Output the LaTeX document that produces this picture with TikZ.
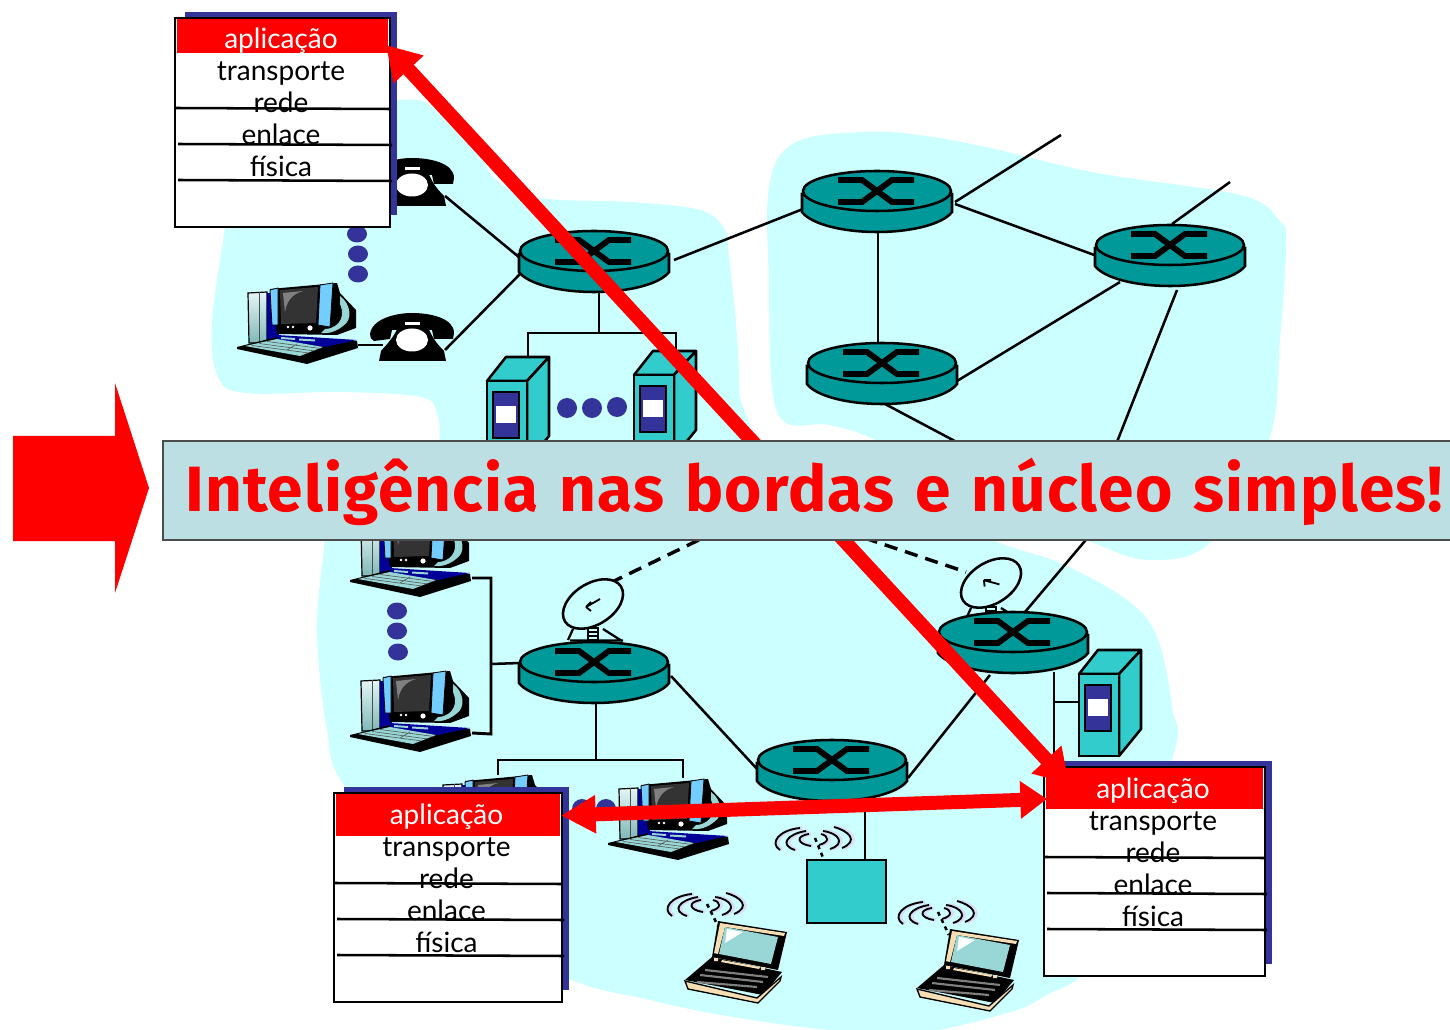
\documentclass[tikz,border=0pt]{standalone}
\usepackage{fontspec}
\setmainfont{Lato}
\newfontfamily\bannerfont[LetterSpace=1.7,WordSpace=1.3]{Fira Sans}
\usetikzlibrary{arrows.meta,calc}
\definecolor{cloudc}{HTML}{CCFFFF}
\definecolor{tealc}{HTML}{009999}
\definecolor{aquac}{HTML}{33CCCC}
\definecolor{navyc}{HTML}{333399}
\definecolor{bannerc}{HTML}{BBDFE2}
\definecolor{beigec}{HTML}{F5DEB3}
\definecolor{screenc}{HTML}{99D6D6}
\definecolor{lavc}{HTML}{D8DCF8}
\definecolor{towertop}{HTML}{E4F6F6}
\definecolor{towerbot}{HTML}{7FB8B8}
\tikzset{
 link/.style={line width=1.9pt,black},
 thicklink/.style={line width=2.2pt,black},
 satlink/.style={line width=2.6pt,black,dash pattern=on 10pt off 6pt},
 outl/.style={line width=1.9pt,black},
 dotc/.style={fill=navyc,draw=none},
 redarrow/.style={line width=10.5pt,red},
 stacktext/.style={font=\fontsize{21}{21}\selectfont,inner sep=0pt,anchor=base},
 pics/router/.style={code={
   \draw[outl,fill=tealc] (-75,3) -- (-75,21) .. controls (-66,33) and (-35,41) .. (0,41) .. controls (35,41) and (66,33) .. (75,21) -- (75,3) -- cycle;
   \draw[outl,fill=tealc] (0,0) ellipse [x radius=74,y radius=20];
   \draw[line width=4.4pt,black] (-39,-11) -- (-15,-11) -- (15,11) -- (37,11);
   \draw[line width=4.4pt,black] (-39,11) -- (-15,11) -- (15,-11) -- (37,-11);
 }},
 pics/server/.style={code={
   \draw[outl,fill=aquac,line join=round] (0,0) -- (19,-24) -- (62,-24) -- (40,0) -- cycle;
   \draw[outl,fill=aquac,line join=round] (40,0) -- (62,-24) -- (62,55) -- (40,82) -- cycle;
   \draw[outl,fill=aquac] (0,0) rectangle (40,82);
   \draw[outl,fill=navyc] (6,11) rectangle (32,57);
   \fill[white] (9,25) rectangle (29,42);
 }},
 pics/phone/.style={code={
   \fill[black] (0,21) .. controls (2,6) and (25,0) .. (42,0) .. controls (60,0) and (84,5) .. (84,20) -- (83,26) -- (64,26) -- (62,17) -- (22,17) -- (20,26) -- (4,28) .. controls (1,27) and (0,24) .. (0,21) -- cycle;
   \fill[black] (28,14) -- (58,14) .. controls (62,24) and (66,30) .. (74,38) -- (76,48) -- (9,48) -- (11,38) .. controls (18,30) and (24,24) .. (28,14) -- cycle;
   \fill[white] (35,9) rectangle (50,12);
   \fill[white] (42,27) ellipse [x radius=16,y radius=11.5];
 }},
 pics/pc/.style={code={
   \draw[line width=.9pt,black,top color=towertop,bottom color=towerbot] (11,11) -- (30,10) -- (30,61) -- (12,61) -- cycle;
   \draw[line width=.5pt,black!70] (22,10) -- (22,61);
   \fill[blue!60!black] (30,11) rectangle (42,58);
   \fill[black] (0,65) -- (40,55) -- (120,59) -- (121,66) -- (70,82) -- (0,67) -- cycle;
   \fill[blue!60!black] (40,53) -- (120,58) -- (88,65) -- (40,58) -- cycle;
   \fill[screenc] (8,64) -- (40,57) -- (86,65) -- (63,74) -- cycle;
   \draw[line width=.4pt,black!70] (15,63.5) -- (72,71) (22,61.5) -- (78,69) (30,59.5) -- (84,66.5) (50,68) -- (60,62);
   \fill[black] (33,7) -- (100,1) -- (103,11) -- (119,28) -- (119,46) -- (100,53) -- (40,52) -- cycle;
   \fill[screenc] (103,14) .. controls (114,22) and (116,38) .. (106,44) .. controls (100,49) and (92,52) .. (84,51) -- (88,47) .. controls (98,47) and (110,38) .. (103,22) -- cycle;
   \draw[line width=.6pt,black,fill=blue!35!cyan!55] (33,8) -- (41,6) -- (41,43) -- (35,43) -- cycle;
   \draw[line width=.6pt,black,fill=blue!35!cyan!55] (83,3) -- (96,1) -- (93,45) -- (81,43) -- cycle;
   \fill[black!80] (43,8) -- (81,5) -- (79,41) -- (44,42) -- cycle;
   \fill[black!50] (46,11) -- (66,9) .. controls (56,12) and (50,18) .. (48,30) -- cycle;
   \fill[white] (51,45) circle [radius=1.4] (56,45) circle [radius=1.4] (73,46) circle [radius=2.6];
   \fill[screenc] (44,55) -- (58,56) -- (58,58) -- (44,57) -- cycle (62,56.5) -- (78,57.5) -- (78,59.5) -- (62,58.5) -- cycle;
 }},
 pics/laptop/.style={code={
   \fill[black] (33,0) -- (102,11) -- (93,49) -- (27,36) -- cycle;
   \fill[beigec] (35,2) -- (100,12) -- (99,15) -- (40,6) -- (33,33) -- (29,32) -- cycle;
   \fill[screenc] (40,6) -- (93,16) -- (86,43) -- (34,33) -- cycle;
   \fill[white] (42,8) -- (58,11) -- (40,22) -- cycle;
   \fill[black] (27,36) -- (97,51) -- (78,74) -- (0,59) -- cycle;
   \draw[line width=1pt,black,fill=beigec] (0,60) -- (72,77) -- (96,56) -- (95,60) -- (73,82) -- (3,68) -- cycle;
   \draw[line width=1.6pt,gray] (20,49) -- (83,56) (15,54) -- (78,61) (12,61) -- (72,66);
   \fill[beigec] (37,39) -- (75,46) -- (74,48) -- (36,41) -- cycle;
   \fill[beigec] (29,37) rectangle (33,40) (76,46) rectangle (80,49);
 }},
 pics/waves/.style={code={
   \foreach \wc/\ww/\sx in {lavc/2.8pt/2, black/1.4pt/0}{
     \draw[color=\wc,line width=\ww,shift={(\sx,1)}]
       (-35,12) .. controls (-46,5) and (-36,-8) .. (-15,-10)
       (-20,12) .. controls (-36,7) and (-28,-4) .. (-9,-7)
       (-4,8) .. controls (-18,6) and (-20,-2) .. (-6,-4)
       (27,10) .. controls (44,3) and (34,-7) .. (19,-11)
       (15,11) .. controls (31,6) and (24,-5) .. (8,-7)
       (4,7) .. controls (15,4) and (14,-2) .. (6,-4);
   }
 }},
 pics/dish/.style={code={
   \draw[line width=1.7pt,black] (-23,36.5) -- (30,36.5) (-20,25) -- (-25,36) (10,25) -- (29,37);
   \draw[line width=1.1pt,black] (-5,24) rectangle (5,36) (-5,28) -- (5,28) (-5,32) -- (5,32);
   \draw[line width=1.9pt,black,fill=cloudc,rotate=32] (0,0) ellipse [x radius=33,y radius=20.6];
   \draw[line width=1.4pt,black,rotate=#1] (-7,3) -- (7,-5) (-7,3) -- (-2,-2) (-7,3) -- (-2,7);
 }},
}
\newcommand{\protostack}[5]{%
 \begin{scope}[shift={(#2,#3)}]
 \pgfmathsetmacro{\stw}{#4}
 \pgfmathsetmacro{\stc}{#4/2-1.5}
 \fill[navyc] (10,-6) rectangle (\stw+6.5,197);
 \draw[outl,fill=white] (0,0) rectangle (\stw,209);
 \fill[red] (1.5,1) rectangle (\stw-2,#5);
 \node[stacktext,text=white] (#1-app) at (\stc,31) {aplicação};
 \node[stacktext] (#1-tra) at (\stc,63) {transporte};
 \node[stacktext] (#1-red) at (\stc,95) {rede};
 \node[stacktext] (#1-enl) at (\stc,127) {enlace};
 \node[stacktext] (#1-fis) at (\stc,159) {física};
 \draw[outl] (1,90) -- (\stw,91) (3,126) -- (\stw+2,127) (3,162) -- (\stw+2,163);
 \end{scope}}
\begin{document}
\begin{tikzpicture}[x=.75pt,y=-.75pt,line join=miter]
\useasboundingbox (0,0) rectangle (1450,1030);
\clip (0,0) rectangle (1450,1030);
% clouds
\fill[cloudc] plot[smooth cycle,tension=.6] coordinates {(240,120)(396,100)(436,110)(475,147)(496,180)(539,198)(629,202)(700,210)(725,230)(729,257)(736,323)(739,390)(735,480)(440,480)(440,442)(437,413)(421,397)(343,392)(246,393)(218,377)(212,323)(225,227)};
\fill[cloudc] plot[smooth cycle,tension=.6] coordinates {(861,132)(919,135)(990,148)(1097,173)(1240,195)(1279,220)(1286,243)(1280,340)(1269,440)(1213,540)(1150,560)(1085,540)(950,490)(879,442)(829,425)(786,423)(772,387)(769,287)(769,187)(794,143)};
\fill[cloudc] plot[smooth cycle,tension=.6] coordinates {(330,490)(325,540)(317,630)(327,730)(345,787)(440,900)(560,975)(650,1000)(733,1017)(830,1030)(917,1033)(1000,1015)(1043,997)(1100,950)(1172,760)(1172,707)(1157,637)(1127,600)(1060,563)(993,540)(900,490)(600,480)};
% ports
\coordinate (r1e) at (674,260); \coordinate (r1phA) at (520,258); \coordinate (r1phB) at (520,274);
\coordinate (r1s) at (599,291); \coordinate (r1j) at (599,333);
\coordinate (s1up) at (528,360); \coordinate (s1j) at (528,333); \coordinate (s2up) at (676,352); \coordinate (s2j) at (676,333);
\coordinate (r2w) at (803,209); \coordinate (r2e) at (955,204); \coordinate (r2ne) at (955,202); \coordinate (r2s) at (878,232);
\coordinate (freeA) at (1061,135); \coordinate (freeB) at (1230,182);
\coordinate (r3w) at (1097,256); \coordinate (r3n) at (1172,224); \coordinate (r3sw) at (1120,282); \coordinate (r3s) at (1177,290);
\coordinate (r4n) at (878,343); \coordinate (r4e) at (957,381); \coordinate (r4s) at (885,404); \coordinate (hiddenA) at (1000,465);
\coordinate (hiddenB) at (1098,490); \coordinate (hiddenC) at (1128,490); \coordinate (r5n) at (1025,612);
\coordinate (r5sw) at (990,675); \coordinate (r5s) at (1054,672); \coordinate (r5j) at (1054,702); \coordinate (r5low) at (1054,775); \coordinate (s3w) at (1079,702);
\coordinate (r7ne) at (908,778); \coordinate (r7nw) at (758,770); \coordinate (r7s) at (865,801); \coordinate (apn) at (865,860);
\coordinate (r6e) at (671,676); \coordinate (r6w) at (520,663); \coordinate (r6s) at (596,702); \coordinate (r6j) at (596,760);
\coordinate (busT) at (491,578); \coordinate (busM) at (491,664); \coordinate (busB) at (491,734);
\coordinate (pc2e) at (472,578); \coordinate (pc3e) at (472,733);
\coordinate (pc5j) at (498,760); \coordinate (pc4j) at (683,760); \coordinate (pc5n) at (498,775); \coordinate (pc4n) at (683,778);
\coordinate (ph1e) at (445,196); \coordinate (ph2e) at (445,350); \coordinate (pc1e) at (358,345); \coordinate (ph2w) at (383,345);
\coordinate (dishA) at (610,583); \coordinate (dishB) at (966,572); \coordinate (sat) at (769,506);
\coordinate (apant) at (824,860); \coordinate (aptop) at (815,838);
\coordinate (lapAant) at (718,926); \coordinate (lapAtop) at (707,904);
\coordinate (lapBant) at (949,935); \coordinate (lapBtop) at (938,912);
% links
\draw[link] (r1e) -- (r2w);
\draw[link] (r2ne) -- (freeA);
\draw[link] (r2e) -- (r3w);
\draw[link] (r3n) -- (freeB);
\draw[link] (r2s) -- (r4n);
\draw[link] (r4e) -- (r3sw);
\draw[link] (r3s) -- (hiddenB);
\draw[link] (hiddenC) -- (r5n);
\draw[link] (r4s) -- (hiddenA);
\draw[link] (r5sw) -- (r7ne);
\draw[link] (r6e) -- (r7nw);
\draw[thicklink] (r7s) -- (apn);
\draw[link] (ph1e) -- (r1phA);
\draw[link] (ph2e) -- (r1phB);
\draw[link] (r1s) -- (r1j);
\draw[link] (s1up) -- (s1j) -- (s2j) -- (s2up);
\draw[thicklink] (r5s) -- (r5low);
\draw[thicklink] (r5j) -- (s3w);
\draw[thicklink] (pc1e) -- (ph2w);
\draw[thicklink] (pc2e) -- (busT) -- (busB) -- (pc3e);
\draw[link] (busM) -- (r6w);
\draw[thicklink] (r6s) -- (r6j);
\draw[thicklink] (pc5n) -- (pc5j) -- (pc4j) -- (pc4n);
\draw[satlink] (dishA) -- (sat) -- (dishB);
\draw[link,dashed] (aptop) -- (apant);
\draw[link,dashed] (lapAtop) -- (lapAant);
\draw[link,dashed] (lapBtop) -- (lapBant);
% devices
\pic at (370,158) {phone};
\pic at (370,313) {phone};
\pic at (237,282) {pc};
\pic at (350,515) {pc};
\pic at (350,670) {pc};
\pic at (432,774) {pc};
\pic at (608,778) {pc};
\pic at (593,604) {dish=0};
\pic at (991,583) {dish=-45};
\pic at (594,251) {router};
\pic at (877,191) {router};
\pic at (1170,245) {router};
\pic at (882,363) {router};
\pic at (1013,632) {router};
\pic at (594,662) {router};
\pic at (832,760) {router};
\pic at (487,381) {server};
\pic at (634,375) {server};
\pic at (1079,674) {server};
\draw[outl,fill=aquac] (807,860) rectangle (886,923);
\pic at (815,837) {waves};
\pic at (707,903) {waves};
\pic at (938,911) {waves};
\pic at (685,921) {laptop};
\pic at (917,929) {laptop};
% dots
\foreach \dx/\dy in {357/234,358/254,358/274,397/611,397/631,398/652}
  \fill[dotc] (\dx,\dy) ellipse [x radius=10,y radius=8.5];
\foreach \dx/\dy in {567/408,592/408,617/407,582/809,606/809}
  \fill[dotc] (\dx,\dy) circle [radius=10];
% stacks
\protostack{sa}{175}{18}{215}{35}
\protostack{sb}{334}{793}{228}{43}
\protostack{sc}{1044}{767}{221}{42}
% red arrows
\coordinate (arrA) at (386,45); \coordinate (arrB) at (1069,784);
\coordinate (arrC) at (561,815.5); \coordinate (arrD) at (1047,799);
\draw[redarrow,{Triangle[length=25pt,width=29pt]}-{Triangle[length=25pt,width=29pt]}] (arrA) -- (arrB);
\draw[redarrow,{Triangle[length=26pt,width=27pt]}-{Triangle[length=20pt,width=27pt]}] (arrC) -- (arrD);
% banner
\fill[red] (13,436) -- (115,436) -- (115,383) -- (149,488) -- (115,593) -- (115,541) -- (13,541) -- cycle;
\draw[line width=1.3pt,draw=black!70,fill=bannerc] (163,441) rectangle (1465,540);
\node[inner sep=0pt,anchor=base west,text=red,font=\bannerfont\bfseries\fontsize{48}{48}\selectfont] (bannertext) at (185,512) {Inteligência nas bordas e núcleo simples!};
\end{tikzpicture}
\end{document}
